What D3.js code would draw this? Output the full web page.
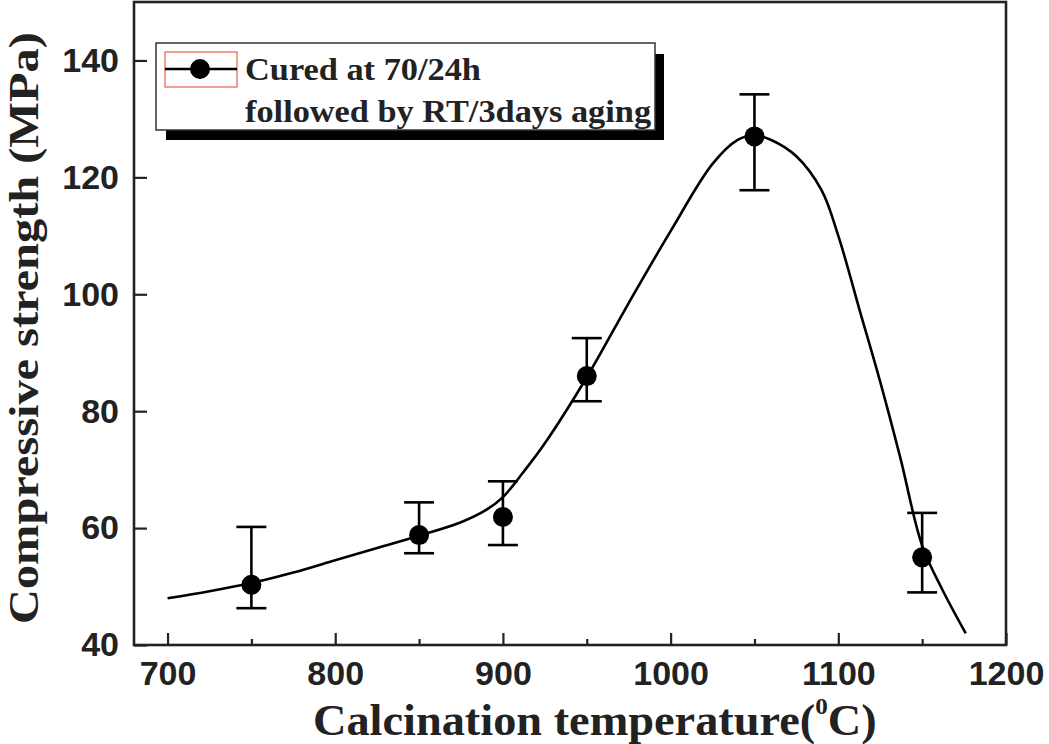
<!DOCTYPE html>
<html>
<head>
<meta charset="utf-8">
<script src="https://cdn.jsdelivr.net/npm/d3@7"></script>
<style>
    html, body { margin: 0; padding: 0; background: #fff; }
    svg { display: block; }
</style>
</head>
<body>
<svg id="chart" width="1049" height="744"></svg>
<script>
"use strict";

// 测量点 (温度, 强度, 误差上限, 误差下限)
var temps = [750, 850, 900, 950, 1050, 1150];
var strength = [50.3, 58.8, 61.9, 86.0, 127.0, 55.0];
var errTop = [60.2, 64.4, 68.0, 92.5, 134.2, 62.6];
var errBottom = [46.3, 55.7, 57.1, 81.7, 117.8, 49.0];

// 拟合曲线
var fitTemps = [700, 725, 750, 775, 800, 825, 850, 875, 890, 900, 912, 925, 950, 975, 1000, 1025, 1040, 1050, 1060, 1075, 1090, 1100, 1113, 1125, 1137, 1150, 1162, 1176];
var fitStrength = [48.0, 49.2, 50.6, 52.4, 54.5, 56.6, 58.7, 61.0, 63.1, 65.3, 69.5, 74.5, 85.8, 98.5, 110.8, 122.3, 126.4, 127.2, 126.4, 123.6, 117.8, 110.0, 97.0, 85.0, 72.0, 57.0, 49.5, 42.0];

// 坐标轴刻度
var xTicks = [700, 800, 900, 1000, 1100, 1200];
var xMinorTicks = [750, 850, 950, 1050, 1150];
var yTicks = [40, 60, 80, 100, 120, 140];

// 图例文字
var legendLines = ["Cured at 70/24h", "followed by RT/3days aging"];

//配置
var _config = {
    left: 134, right: 1006, top: 2, bottom: 645,
    xDomain: [680, 1200],
    yDomain: [40, 150],
    serif: "'Liberation Serif', 'Times New Roman', serif",
    sans: "'Liberation Sans', Arial, sans-serif"
};

var svg = d3.select("#chart");

var x = d3.scaleLinear().domain(_config.xDomain).range([_config.left, _config.right]);
var y = d3.scaleLinear().domain(_config.yDomain).range([_config.bottom, _config.top]);

// 把文字横向缩放到指定宽度
function fitWidth(sel, width, x0) {
    var w = sel.node().getComputedTextLength();
    sel.attr("transform", "translate(" + x0 + ",0) scale(" + (width / w) + ",1) translate(" + (-x0) + ",0)");
}

// 坐标轴
var xAxis = svg.append("g")
    .attr("transform", "translate(0," + _config.bottom + ")")
    .call(d3.axisBottom(x).tickValues(xTicks).tickSizeInner(-12).tickSizeOuter(0).tickPadding(16).tickFormat(d3.format("d")));

svg.append("g")
    .attr("transform", "translate(0," + _config.bottom + ")")
    .call(d3.axisBottom(x).tickValues(xMinorTicks).tickSizeInner(-6).tickSizeOuter(0).tickFormat(""))
    .select(".domain").remove();

var yAxis = svg.append("g")
    .attr("transform", "translate(" + _config.left + ",0)")
    .call(d3.axisLeft(y).tickValues(yTicks).tickSizeInner(-13).tickSizeOuter(0).tickPadding(15));

[xAxis, yAxis].forEach(function (g) {
    g.select(".domain").remove();
    g.selectAll("text")
        .attr("fill", "#222")
        .style("font-family", _config.sans)
        .style("font-weight", "bold")
        .style("font-size", "34px");
});
svg.selectAll(".tick line").attr("stroke", "#222").attr("stroke-width", 2.2);

// 边框
svg.append("rect")
    .attr("x", _config.left).attr("y", _config.top)
    .attr("width", _config.right - _config.left)
    .attr("height", _config.bottom - _config.top)
    .attr("fill", "none")
    .attr("stroke", "#222")
    .attr("stroke-width", 2.6);

// 拟合曲线
var fitData = fitTemps.map(function (t, i) { return [t, fitStrength[i]]; });
svg.append("path")
    .datum(fitData)
    .attr("fill", "none")
    .attr("stroke", "#000")
    .attr("stroke-width", 2.6)
    .attr("d", d3.line().x(function (d) { return x(d[0]); }).y(function (d) { return y(d[1]); }).curve(d3.curveCatmullRom.alpha(0.5)));

// 误差棒和数据点
var pts = temps.map(function (t, i) {
    return { t: t, v: strength[i], hi: errTop[i], lo: errBottom[i] };
});
var pg = svg.append("g").selectAll("g").data(pts).enter().append("g");
pg.append("line")
    .attr("x1", function (d) { return x(d.t); }).attr("x2", function (d) { return x(d.t); })
    .attr("y1", function (d) { return y(d.hi); }).attr("y2", function (d) { return y(d.lo); })
    .attr("stroke", "#000").attr("stroke-width", 2.6);
["hi", "lo"].forEach(function (k) {
    pg.append("line")
        .attr("x1", function (d) { return x(d.t) - 15; }).attr("x2", function (d) { return x(d.t) + 15; })
        .attr("y1", function (d) { return y(d[k]); }).attr("y2", function (d) { return y(d[k]); })
        .attr("stroke", "#000").attr("stroke-width", 2.6);
});
pg.append("circle")
    .attr("cx", function (d) { return x(d.t); })
    .attr("cy", function (d) { return y(d.v); })
    .attr("r", 10)
    .attr("fill", "#000");

// 图例
var lg = svg.append("g");
lg.append("rect").attr("x", 166).attr("y", 54).attr("width", 498).attr("height", 86).attr("fill", "#000");
lg.append("rect").attr("x", 156).attr("y", 43).attr("width", 499).attr("height", 87)
    .attr("fill", "#fff").attr("stroke", "#333").attr("stroke-width", 1.5);
lg.append("rect").attr("x", 165).attr("y", 52).attr("width", 72).attr("height", 35)
    .attr("fill", "none").attr("stroke", "#e8604c").attr("stroke-width", 1.2);
lg.append("line").attr("x1", 165).attr("x2", 237).attr("y1", 69).attr("y2", 69)
    .attr("stroke", "#000").attr("stroke-width", 2.6);
lg.append("circle").attr("cx", 200).attr("cy", 69).attr("r", 10).attr("fill", "#000");

var legendWidths = [236, 406];
var legendBaselines = [80, 122];
legendLines.forEach(function (s, i) {
    var t = lg.append("text")
        .attr("x", 245).attr("y", legendBaselines[i])
        .attr("fill", "#222")
        .style("font-family", _config.serif)
        .style("font-weight", "bold")
        .style("font-size", "32px")
        .text(s);
    fitWidth(t, legendWidths[i], 245);
});

// 坐标轴标题
var xt = svg.append("text")
    .attr("x", 313).attr("y", 735)
    .attr("fill", "#222")
    .style("font-family", _config.serif)
    .style("font-weight", "bold")
    .style("font-size", "44px");
xt.append("tspan").text("Calcination temperature(");
xt.append("tspan").attr("dy", -21).style("font-size", "24px").text("0");
xt.append("tspan").attr("dy", 21).text("C)");
fitWidth(xt, 564, 313);

var ytG = svg.append("g").attr("transform", "translate(38,328) rotate(-90)");
var yt = ytG.append("text")
    .attr("x", -296).attr("y", 0)
    .attr("fill", "#222")
    .style("font-family", _config.serif)
    .style("font-weight", "bold")
    .style("font-size", "42px")
    .text("Compressive strength (MPa)");
fitWidth(yt, 592, -296);
</script>
</body>
</html>
